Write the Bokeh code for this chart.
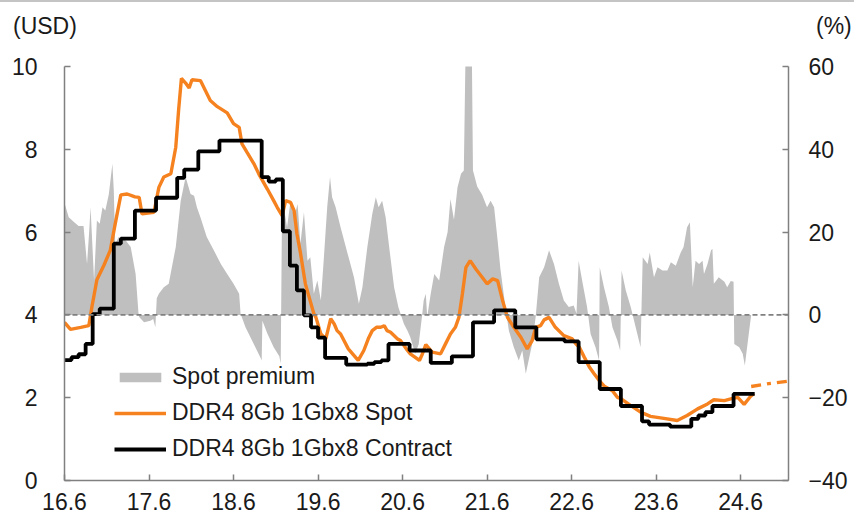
from bokeh.plotting import figure
from bokeh.layouts import column
from bokeh.models import Range1d, LinearAxis, FixedTicker, Span, Legend, LegendItem, Div
from bokeh.embed import file_html
from bokeh.resources import INLINE

# x = months since 2016-06 (16.6)
tick_months = [0, 12, 24, 36, 48, 60, 72, 84, 96]
tick_labels = ["16.6", "17.6", "18.6", "19.6", "20.6", "21.6", "22.6", "23.6", "24.6"]

spot_m = [0.0, 0.85, 2.3, 3.45, 3.9, 4.6, 5.6, 6.5, 7.2, 8.0, 8.9, 10.0, 10.6, 11.0, 12.7, 13.4, 14.1,
          15.1, 15.8, 16.2, 16.6, 17.2, 17.7, 18.1, 19.3, 20.0, 20.7, 21.7, 23.1, 24.0, 24.8, 25.2,
          25.9, 26.9, 27.6, 28.8, 29.7, 30.2, 30.9, 31.4, 32.1, 32.6, 33.0, 33.5, 34.2, 35.4, 35.7,
          36.4, 37.1, 37.8, 38.3, 38.7, 39.2, 40.3, 41.7, 42.5, 43.2, 43.7, 44.3, 44.9, 45.4, 45.8,
          46.3, 47.3, 47.7, 48.7, 49.1, 50.4, 50.8, 51.3, 52.2, 53.4, 54.1, 54.8, 55.5, 56.0, 56.5,
          57.0, 57.6, 58.4, 59.3, 60.0, 60.8, 61.5, 62.2, 62.9, 63.8, 64.8, 65.7, 66.4, 66.9, 67.6,
          68.1, 68.8, 69.7, 70.9, 72.1, 72.6, 73.1, 73.8, 74.5, 75.2, 75.9, 76.7, 77.8, 78.5, 79.0,
          80.3, 81.8, 83.2, 85.1, 87.0, 88.4, 89.9, 91.3, 92.2, 93.7, 94.6, 95.6, 96.5, 97.4, 97.9]
spot_usd = [3.82, 3.65, 3.70, 3.74, 4.20, 4.85, 5.20, 5.56, 6.20, 6.90, 6.92, 6.85, 6.84, 6.44, 6.48,
            7.08, 7.33, 7.41, 8.05, 8.94, 9.71, 9.60, 9.48, 9.68, 9.66, 9.42, 9.18, 9.03, 8.88, 8.62,
            8.53, 8.13, 7.93, 7.65, 7.40, 7.04, 6.76, 6.60, 6.40, 6.76, 6.72, 6.52, 5.96, 5.50, 4.75,
            4.03, 3.94, 3.54, 3.42, 3.91, 3.78, 3.62, 3.54, 3.18, 2.90, 3.14, 3.45, 3.62, 3.70, 3.70,
            3.74, 3.62, 3.58, 3.42, 3.38, 3.14, 3.06, 2.90, 3.05, 3.28, 3.10, 3.06, 3.30, 3.54, 3.70,
            3.94, 4.51, 5.15, 5.31, 5.11, 4.91, 4.75, 4.87, 4.83, 4.35, 3.94, 3.70, 3.46, 3.18, 3.38,
            3.70, 3.74, 3.88, 3.94, 3.70, 3.50, 3.42, 3.30, 3.22, 2.98, 2.75, 2.58, 2.42, 2.27, 2.17,
            2.01, 1.98, 1.82, 1.65, 1.55, 1.50, 1.45, 1.57, 1.73, 1.85, 1.95, 1.93, 1.97, 2.01, 1.84,
            2.03, 2.10]

spot_tail_m = [97.5, 100.0, 102.8]
spot_tail_usd = [2.27, 2.34, 2.40]

contract_m = [0, 1, 2, 3, 4, 5, 7, 8, 10, 13, 16, 17, 19, 22, 28, 29, 30, 31, 32, 33, 34, 35, 36, 37,
              40, 43, 44, 45, 46, 49, 52, 55, 58, 61, 64, 67, 71, 73, 76, 79, 82, 83, 86, 89, 90, 91,
              92, 95, 98]
contract_usd = [2.91, 2.98, 3.05, 3.30, 4.02, 4.15, 5.72, 5.84, 6.52, 6.83, 7.31, 7.51, 7.95, 8.21,
                7.33, 7.22, 7.27, 6.02, 5.19, 4.59, 3.99, 3.70, 3.45, 2.96, 2.80, 2.82, 2.86, 2.90,
                3.30, 3.14, 2.84, 3.00, 3.82, 4.11, 3.70, 3.41, 3.36, 2.86, 2.21, 1.80, 1.43, 1.35,
                1.30, 1.49, 1.57, 1.65, 1.80, 2.09, 2.09]

premium_m = [0.0, 0.6, 1.3, 2.0, 2.7, 3.0, 3.2, 3.5, 3.7, 4.2, 4.6, 5.0, 5.4, 5.8, 6.3, 6.8, 7.0, 7.2,
             7.7, 8.7, 9.4, 10.1, 10.5, 10.6, 11.3, 12.2, 12.6, 12.9, 13.1, 13.4, 14.1, 14.8, 15.3,
             15.8, 16.5, 17.2, 17.9, 18.4, 18.8, 19.3, 20.2, 21.2, 22.2, 23.1, 24.0, 24.8, 25.0, 25.7,
             26.4, 27.1, 27.8, 28.0, 28.1, 28.8, 29.7, 30.5, 30.7, 30.9, 31.6, 32.1, 32.6, 33.1, 33.5,
             34.0, 34.5, 34.9, 35.4, 35.9, 36.4, 36.8, 37.3, 37.7, 38.0, 38.5, 39.2, 40.2, 41.1, 41.8,
             42.3, 43.0, 43.7, 44.2, 44.6, 45.1, 45.6, 46.1, 46.8, 47.4, 48.2, 48.7, 49.1, 49.8, 50.3,
             50.8, 51.0, 51.3, 51.5, 52.0, 52.5, 53.2, 53.9, 54.4, 54.8, 55.3, 55.8, 56.3, 56.7, 57.0,
             57.8, 58.0, 58.6, 59.3, 60.0, 60.5, 61.0, 61.5, 61.9, 62.6, 63.1, 63.8, 64.5, 65.0, 65.5,
             65.9, 66.4, 66.9, 67.4, 68.1, 68.8, 69.5, 70.2, 70.9, 71.6, 72.3, 72.7, 73.0, 73.5, 74.2,
             74.7, 75.4, 75.9, 76.0, 76.6, 77.3, 77.8, 78.5, 78.9, 79.1, 79.7, 80.4, 81.1, 81.8, 82.1,
             82.8, 83.1, 83.7, 84.2, 84.9, 85.6, 86.1, 86.8, 87.5, 87.9, 88.4, 88.8, 89.2, 89.6, 90.1,
             90.6, 90.8, 91.3, 91.8, 92.0, 92.2, 92.9, 93.7, 94.1, 94.6, 95.0, 95.1, 95.8, 96.3, 96.6,
             97.1, 97.5]
premium_pct = [27.0, 23.6, 22.5, 21.5, 21.5, 16.0, 12.3, 20.0, 26.0, 8.3, 22.8, 22.0, 26.0, 25.2,
               29.2, 36.5, 30.0, 17.2, 18.8, 18.0, 16.4, 9.9, 0.5, -0.5, -1.8, -1.4, -1.0, -3.0, 4.0,
               5.1, 6.7, 7.5, 12.0, 16.4, 27.6, 33.3, 29.2, 28.8, 26.0, 23.6, 18.8, 15.6, 12.3, 9.9,
               7.5, 5.1, 0.3, -3.0, -5.4, -7.8, -10.2, -11.0, -1.4, -4.5, -7.8, -10.0, -11.8, 28.4,
               21.2, 27.6, 23.6, 26.8, 17.2, 24.8, 13.1, 13.9, 5.1, 8.3, 3.5, 13.1, 26.0, 33.3, 28.4,
               26.0, 21.2, 14.8, 9.1, 2.7, 6.7, 16.4, 24.4, 28.4, 26.0, 27.6, 23.6, 16.4, 6.7, 1.9,
               -2.2, -3.8, -5.4, -9.4, -7.0, 0.3, 3.5, 5.1, -0.5, 5.1, 9.9, 8.3, 16.4, 20.0, 28.0,
               23.0, 30.8, 34.1, 34.9, 70.0, 70.0, 34.9, 31.0, 29.0, 26.0, 27.6, 26.0, 18.0, 11.0,
               1.9, -3.8, -7.8, -11.0, -8.6, -14.2, -11.0, -7.0, -0.5, 9.1, 11.5, 15.6, 12.3, 7.5,
               3.5, 1.9, 2.3, 0.3, 13.1, 8.3, 1.9, -4.6, -7.8, -11.0, 11.5, 6.7, 1.9, -3.0, -6.2,
               -8.6, 10.7, 5.9, 1.9, -3.0, -7.8, 13.9, 12.3, 15.1, 9.1, 11.5, 10.7, 10.7, 12.7, 11.9,
               15.1, 16.4, 21.2, 22.4, 6.7, 13.1, 12.3, 13.1, 9.9, 12.3, 15.6, 16.0, 7.5, 9.1, 8.0,
               6.7, 8.2, 8.0, -7.0, -7.8, -9.4, -12.2, -5.4, 0.0]

FONT = "Liberation Sans"
AXIS_GRAY = "#808080"
TEXT = "#1a1a1a"

# header strip with the unit captions and the thin rule at the top
header = Div(text=(
    '<div style="position:relative;width:854px;height:40px;border-top:2px solid #c4c4c4;'
    'box-sizing:border-box;font-family:\'Liberation Sans\';font-size:23px;line-height:23px;'
    'color:#1a1a1a">'
    '<span style="position:absolute;left:13px;top:13px">(USD)</span>'
    '<span style="position:absolute;left:816px;top:13px">(%)</span></div>'),
    width=854, height=40, margin=(0, 0, 0, 0))

p = figure(frame_width=724, frame_height=414, output_backend="svg", toolbar_location=None,
           x_range=Range1d(0, 102.8), y_range=Range1d(0, 10),
           min_border_left=64, min_border_right=66, min_border_top=26, min_border_bottom=40,
           margin=(0, 0, 0, 0))
p.extra_y_ranges = {"pct": Range1d(-40, 60)}
p.outline_line_color = None
p.grid.visible = False

area = p.varea(x=premium_m, y1=0, y2=premium_pct, y_range_name="pct",
               fill_color="#bfbfbf", fill_alpha=1.0)
p.add_layout(Span(location=4, dimension="width", line_color="#808080", line_width=1.6,
                  line_dash="5 3"))
spot = p.line(spot_m, spot_usd, line_color="#f5821f", line_width=3.4)
p.line(spot_tail_m, spot_tail_usd, line_color="#f5821f", line_width=3.4, line_dash="10 6 4 6")
contract = p.step(contract_m, contract_usd, mode="after", line_color="#000000", line_width=3.8)

right = LinearAxis(y_range_name="pct")
p.add_layout(right, "right")

for ax in [p.xaxis[0], p.yaxis[0], right]:
    ax.axis_line_color = AXIS_GRAY
    ax.axis_line_width = 1.5
    ax.major_tick_line_color = AXIS_GRAY
    ax.major_tick_line_width = 1.5
    ax.major_tick_in = 6
    ax.major_tick_out = 0
    ax.minor_tick_line_color = None
    ax.major_label_text_font = FONT
    ax.major_label_text_font_size = "23px"
    ax.major_label_text_color = TEXT

p.xaxis[0].ticker = FixedTicker(ticks=tick_months)
p.xaxis[0].major_label_overrides = dict(zip(tick_months, tick_labels))
p.xaxis[0].major_label_standoff = 12
p.yaxis[0].ticker = FixedTicker(ticks=[0, 2, 4, 6, 8, 10])
p.yaxis[0].major_label_standoff = 27
right.ticker = FixedTicker(ticks=[-40, -20, 0, 20, 40, 60])
right.major_label_overrides = {-40: "\u221240", -20: "\u221220", 0: "0", 20: "20", 40: "40", 60: "60"}
right.major_label_standoff = 20

legend = Legend(items=[LegendItem(label="Spot premium", renderers=[area]),
                       LegendItem(label="DDR4 8Gb 1Gbx8 Spot", renderers=[spot]),
                       LegendItem(label="DDR4 8Gb 1Gbx8 Contract", renderers=[contract])],
                location=(50, 18), orientation="vertical")
legend.glyph_width = 52
legend.glyph_height = 12
legend.label_standoff = 6
legend.spacing = 9
legend.padding = 0
legend.margin = 0
legend.border_line_alpha = 0
legend.background_fill_alpha = 0
legend.label_text_font = FONT
legend.label_text_font_size = "23px"
legend.label_text_color = TEXT
p.add_layout(legend, "center")

layout = column(header, p, spacing=0)
open("out.html", "w").write(file_html(layout, INLINE))
